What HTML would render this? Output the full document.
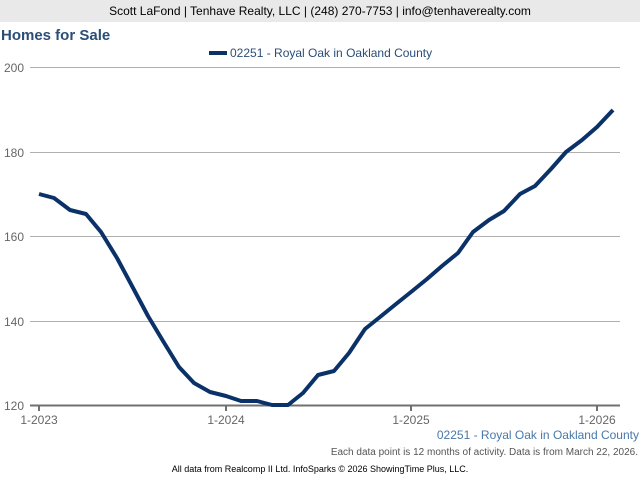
<!DOCTYPE html>
<html><head><meta charset="utf-8"><style>
body{margin:0;width:640px;height:480px;background:#fff;font-family:"Liberation Sans",sans-serif;overflow:hidden}
</style></head><body>
<svg width="640" height="480" xmlns="http://www.w3.org/2000/svg" font-family="Liberation Sans, sans-serif">
<rect x="0" y="0" width="640" height="22" fill="#e9e9e9"/>
<text x="320" y="15" text-anchor="middle" font-size="12" fill="#000">Scott LaFond | Tenhave Realty, LLC | (248) 270-7753 | info@tenhaverealty.com</text>
<text x="1" y="40" font-size="15" font-weight="bold" fill="#2a4e78">Homes for Sale</text>
<rect x="209" y="51" width="18" height="4" fill="#0b3268"/>
<text x="230" y="57" font-size="12" fill="#2a4e78">02251 - Royal Oak in Oakland County</text>
<g stroke="#b0b0b0" stroke-width="1">
<line x1="30" y1="67.5" x2="620" y2="67.5"/>
<line x1="30" y1="152.5" x2="620" y2="152.5"/>
<line x1="30" y1="236.5" x2="620" y2="236.5"/>
<line x1="30" y1="321.5" x2="620" y2="321.5"/>
</g>
<line x1="30" y1="405.5" x2="620" y2="405.5" stroke="#707070" stroke-width="2"/>
<g stroke="#707070" stroke-width="2">
<line x1="39" y1="405" x2="39" y2="411"/><line x1="226" y1="405" x2="226" y2="411"/>
<line x1="411" y1="405" x2="411" y2="411"/><line x1="597" y1="405" x2="597" y2="411"/>
</g>
<g font-size="12" fill="#666">
<text x="24" y="72" text-anchor="end">200</text>
<text x="24" y="157" text-anchor="end">180</text>
<text x="24" y="241" text-anchor="end">160</text>
<text x="24" y="326" text-anchor="end">140</text>
<text x="24" y="410" text-anchor="end">120</text>
<text x="39" y="424" text-anchor="middle">1-2023</text>
<text x="226" y="424" text-anchor="middle">1-2024</text>
<text x="411" y="424" text-anchor="middle">1-2025</text>
<text x="597" y="424" text-anchor="middle">1-2026</text>
</g>
<polyline fill="none" stroke="#0b3268" stroke-width="4" stroke-linejoin="round" points="39,194 54,198 70,210 86,214 101,232 117,258 132,286 148,316 163,341 179,367 194,383 210,392 226,396 241,401 257,401 272,405 288,405 303,393 318,375 334,371 349,353 365,329 380,317 396,304 411,292 427,279 442,266 458,253 473,232 489,220 504,211 520,194 535,186 551,169 566,152 582,140 597,127 613,110"/>
<text x="639" y="439" text-anchor="end" font-size="12" fill="#4a78a8">02251 - Royal Oak in Oakland County</text>
<text x="638" y="455" text-anchor="end" font-size="10" fill="#555">Each data point is 12 months of activity. Data is from March 22, 2026.</text>
<text x="320" y="472" text-anchor="middle" font-size="9" fill="#000">All data from Realcomp II Ltd. InfoSparks © 2026 ShowingTime Plus, LLC.</text>
</svg>
</body></html>
